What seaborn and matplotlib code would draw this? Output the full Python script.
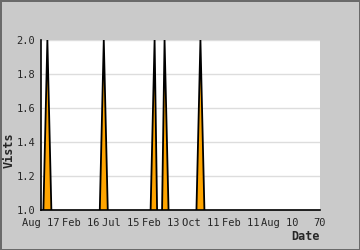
import matplotlib
matplotlib.use("Agg")
import matplotlib.pyplot as plt
import seaborn as sns
import pandas as pd
from matplotlib.ticker import MultipleLocator

# data
days = [-0.4, 1.6, 3.6, 13.75, 15.75, 17.75, 26.5, 28.5, 29.75, 31.0, 33.0, 38.0, 40.0, 42.0, 70]
visits = [0, 2, 0, 0, 2, 0, 0, 2, 0, 2, 0, 0, 2, 0, 0]
tick_pos = [0, 10, 20, 30, 40, 50, 60, 70]
tick_labels = ["Aug 17", "Feb 16", "Jul 15", "Feb 13", "Oct 11", "Feb 11", "Aug 10", "70"]

df = pd.DataFrame({"Date": days, "Vists": visits})

sns.set_style("white")
plt.rcParams["font.family"] = ["DejaVu Sans Mono"]

fig = plt.figure(figsize=(3.6, 2.5), dpi=100, facecolor="#cacaca")
fig.patch.set_edgecolor("#6a6a6a")
fig.patch.set_linewidth(1.0)
ax = fig.add_axes([41/360, 1-210/250, 279/360, 170/250])
ax.set_facecolor("white")

ax.fill_between(df["Date"], df["Vists"], 0, color="#ffa500", linewidth=0, zorder=2)
sns.lineplot(data=df, x="Date", y="Vists", ax=ax, color="black", linewidth=1.3,
             estimator=None, sort=False, zorder=3)

ax.set_xlim(0, 70)
ax.set_ylim(1.0, 2.0)
ax.set_xticks(tick_pos)
ax.set_xticklabels(tick_labels)
ax.yaxis.set_major_locator(MultipleLocator(0.2))
ax.yaxis.set_minor_locator(MultipleLocator(0.1))
ax.yaxis.grid(True, which="major", color="#dddddd", linewidth=1, zorder=0)
ax.set_axisbelow(True)
ax.tick_params(axis="both", which="both", direction="in", color="black", labelsize=7.5)
ax.tick_params(axis="y", which="both", length=5, pad=4)
ax.tick_params(axis="x", length=5, pad=6)
for s in ["top", "right"]:
    ax.spines[s].set_visible(False)
for s in ["left", "bottom"]:
    ax.spines[s].set_color("black")
    ax.spines[s].set_linewidth(1.2)

ax.set_xlabel("")
ax.set_ylabel("")
fig.text(305/360, 1-236/250, "Date", ha="center", va="center", fontsize=8.5, fontweight="bold")
fig.text(9/360, 1-150/250, "Vists", ha="center", va="center", rotation=90, fontsize=8.5, fontweight="bold")

fig.savefig("out.png", dpi=100, facecolor=fig.get_facecolor(), edgecolor=fig.patch.get_edgecolor())
